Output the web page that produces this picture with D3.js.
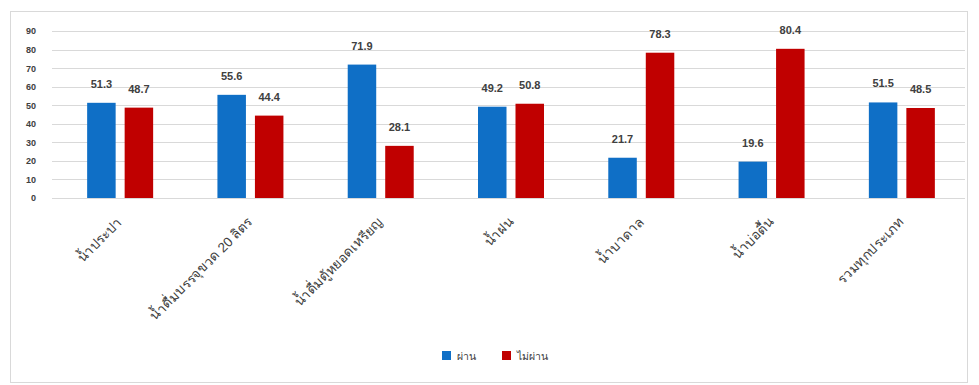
<!DOCTYPE html>
<html>
<head>
<meta charset="utf-8">
<script src="https://cdn.jsdelivr.net/npm/d3@7"></script>
<style>
  html, body { margin: 0; padding: 0; background: #fff; }
  svg { display: block; font-family: "Noto Sans", "DejaVu Sans", sans-serif; }
</style>
</head>
<body>
<svg id="chart" width="979" height="385"></svg>
<script>
// Water source categories and pass / fail percentages
const categories = [
  "น้ำประปา",
  "น้ำดื่มบรรจุขวด 20 ลิตร",
  "น้ำดื่มตู้หยอดเหรียญ",
  "น้ำฝน",
  "น้ำบาดาล",
  "น้ำบ่อตื้น",
  "รวมทุกประเภท"
];
const passValues = [51.3, 55.6, 71.9, 49.2, 21.7, 19.6, 51.5];
const failValues = [48.7, 44.4, 28.1, 50.8, 78.3, 80.4, 48.5];
const seriesNames = ["ผ่าน", "ไม่ผ่าน"];
const yTicks = [0, 10, 20, 30, 40, 50, 60, 70, 80, 90];

const colors = ["#0F6FC6", "#C00000"];
const series = [passValues, failValues];

const svg = d3.select("#chart");

// outer chart frame
svg.append("rect")
  .attr("x", 10.5).attr("y", 11.5)
  .attr("width", 957).attr("height", 371)
  .attr("fill", "#fff").attr("stroke", "#d9d9d9").attr("stroke-width", 1);

const plot = { left: 55, right: 967, top: 31, bottom: 198 };

const x = d3.scaleBand().domain(categories).range([plot.left, plot.right]);
const xInner = d3.scaleBand().domain([0, 1]).range([x.bandwidth() / 2 - 33, x.bandwidth() / 2 + 33]).paddingInner(0.24);
const y = d3.scaleLinear().domain([0, 90]).range([plot.bottom, plot.top]);

// horizontal gridlines
svg.append("g")
  .selectAll("line")
  .data(yTicks)
  .join("line")
  .attr("x1", plot.left - 3).attr("x2", plot.right - 2)
  .attr("y1", d => Math.round(y(d)) + 0.5).attr("y2", d => Math.round(y(d)) + 0.5)
  .attr("stroke", "#d9d9d9").attr("stroke-width", 1);

// y axis labels
const yAxis = d3.axisLeft(y).tickValues(yTicks).tickSize(0).tickPadding(0);
svg.append("g")
  .attr("transform", `translate(36,0)`)
  .call(yAxis)
  .call(g => g.select(".domain").remove())
  .selectAll("text")
  .attr("font-size", 9).attr("font-weight", "bold").attr("fill", "#404040")
  .attr("font-family", "'Liberation Sans', Arial, sans-serif");

// bars
const groups = svg.append("g")
  .selectAll("g")
  .data(categories)
  .join("g")
  .attr("transform", d => `translate(${x(d)},0)`);

groups.selectAll("rect")
  .data((d, i) => series.map((s, k) => ({ k, v: s[i] })))
  .join("rect")
  .attr("x", d => xInner(d.k))
  .attr("width", xInner.bandwidth())
  .attr("y", d => y(d.v))
  .attr("height", d => y(0) - y(d.v))
  .attr("fill", d => colors[d.k]);

// value labels
groups.selectAll("text.val")
  .data((d, i) => series.map((s, k) => ({ k, v: s[i] })))
  .join("text")
  .attr("class", "val")
  .attr("x", d => xInner(d.k) + xInner.bandwidth() / 2)
  .attr("y", d => y(d.v) - 15)
  .attr("text-anchor", "middle")
  .attr("font-size", 11).attr("font-weight", "bold").attr("fill", "#404040")
  .attr("font-family", "'Liberation Sans', Arial, sans-serif")
  .text(d => d.v.toFixed(1));

// category labels, rotated 45 degrees
const xAxis = d3.axisBottom(x).tickSize(0).tickPadding(0);
svg.append("g")
  .attr("transform", `translate(0,${plot.bottom})`)
  .call(xAxis)
  .call(g => g.select(".domain").remove())
  .selectAll("text")
  .attr("font-size", 13.5).attr("fill", "#404040")
  .attr("text-anchor", "end")
  .attr("dy", 0)
  .attr("transform", "translate(3,25) rotate(-45)");

// legend
const legend = svg.append("g").attr("transform", "translate(442,351)");
const legendOffsets = [0, 60];
seriesNames.forEach((name, k) => {
  const item = legend.append("g").attr("transform", `translate(${legendOffsets[k]},0)`);
  item.append("rect").attr("x", 0).attr("y", 0).attr("width", 9).attr("height", 9).attr("fill", colors[k]);
  item.append("text").attr("x", 15).attr("y", 8.5)
    .attr("font-size", 10.5).attr("fill", "#404040").text(name);
});
</script>
</body>
</html>
